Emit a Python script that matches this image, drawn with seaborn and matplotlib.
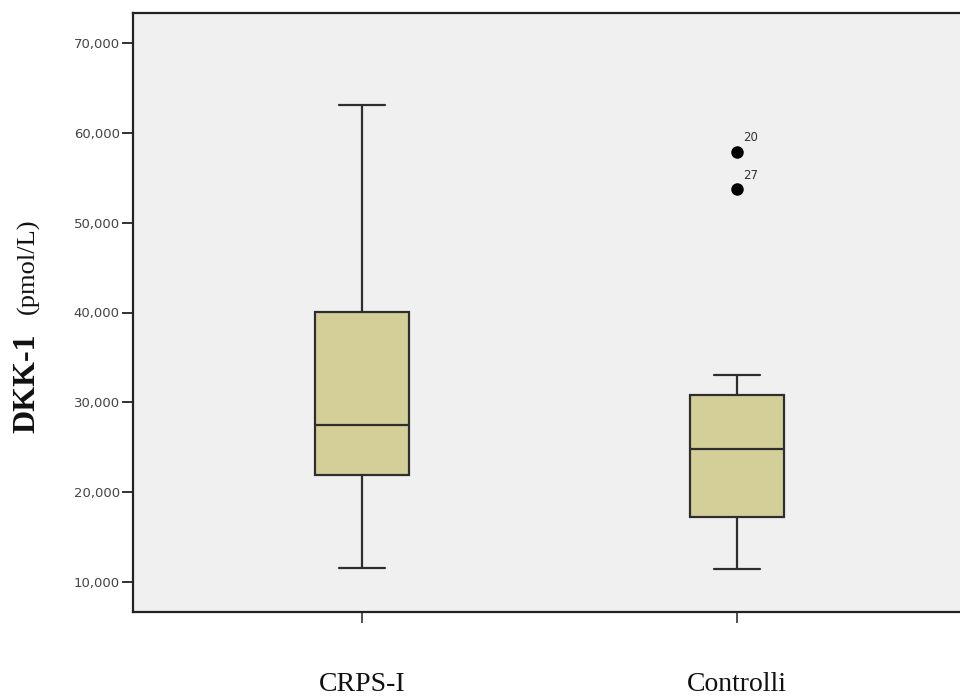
import matplotlib
matplotlib.use("Agg")
import matplotlib.pyplot as plt
from matplotlib.ticker import FuncFormatter
import pandas as pd
import seaborn as sns

# Box summaries per group: lower whisker, Q1, median, Q3, upper whisker (pmol/L)
groups = ["CRPS-I", "Controlli"]
crps_summary = [11600, 21900, 27500, 40100, 63100]
controlli_summary = [11400, 17200, 24800, 30800, 33000]

# Outlying cases for the control group, with their case numbers
outlier_group = ["Controlli", "Controlli"]
outlier_values = [57900, 53700]
outlier_ids = ["20", "27"]

yticks = [10000, 20000, 30000, 40000, 50000, 60000, 70000]

box_df = pd.DataFrame({
    "gruppo": [groups[0]] * len(crps_summary) + [groups[1]] * len(controlli_summary),
    "dkk1": crps_summary + controlli_summary,
})
out_df = pd.DataFrame({"gruppo": outlier_group, "dkk1": outlier_values})

sns.set_theme(style="white")
plt.rcParams["font.family"] = ["DejaVu Sans"]

fig = plt.figure(figsize=(9.6, 6.98), dpi=100)
ax = fig.add_axes([133 / 960, 1 - 612 / 698, 833 / 960, 599 / 698])
ax.set_facecolor("#f0f0f0")

edge = "#2e2e2e"
sns.boxplot(
    data=box_df, x="gruppo", y="dkk1", order=groups, ax=ax,
    width=0.25, color="#d4cf98", linecolor=edge, linewidth=1.6,
    showfliers=False, saturation=1,
)
sns.stripplot(
    data=out_df, x="gruppo", y="dkk1", order=groups, ax=ax,
    jitter=False, color="black", size=9, linewidth=0,
)
for g, v, lab in zip(outlier_group, outlier_values, outlier_ids):
    ax.annotate(lab, (groups.index(g), v), xytext=(6, 14),
                textcoords="offset pixels", ha="left", va="center",
                fontsize=8.5, color="#333333")

ax.set_xlim(-0.611, 1.611)
ax.set_ylim(6660, 73340)
ax.set_yticks(yticks)
ax.yaxis.set_major_formatter(FuncFormatter(lambda v, p: f"{v:,.0f}"))
ax.set_xlabel("")
ax.set_ylabel("")

for s in ["left", "top", "bottom"]:
    ax.spines[s].set_visible(True)
    ax.spines[s].set_color("#222222")
    ax.spines[s].set_linewidth(1.6)
ax.spines["right"].set_visible(False)

ax.tick_params(axis="y", direction="out", length=8, width=1.4, color="#333333",
               labelsize=9.5, labelcolor="#444444", pad=1.5, left=True)
ax.tick_params(axis="x", direction="out", length=8, width=1.2, color="#333333",
               labelsize=20, labelcolor="#111111", pad=35, bottom=True)
for t in ax.get_xticklabels():
    t.set_fontfamily(["Liberation Serif", "DejaVu Serif"])

fig.text(27 / 960, 1 - 433 / 698, "DKK-1", rotation=90, ha="center", va="bottom",
         fontsize=23, fontweight="bold", family=["Liberation Serif", "DejaVu Serif"],
         color="#111111")
fig.text(28 / 960, 1 - 218 / 698, "(pmol/L)", rotation=90, ha="center", va="top",
         fontsize=19, family=["Liberation Serif", "DejaVu Serif"], color="#111111")

fig.savefig("out.png", dpi=100, facecolor="white")
